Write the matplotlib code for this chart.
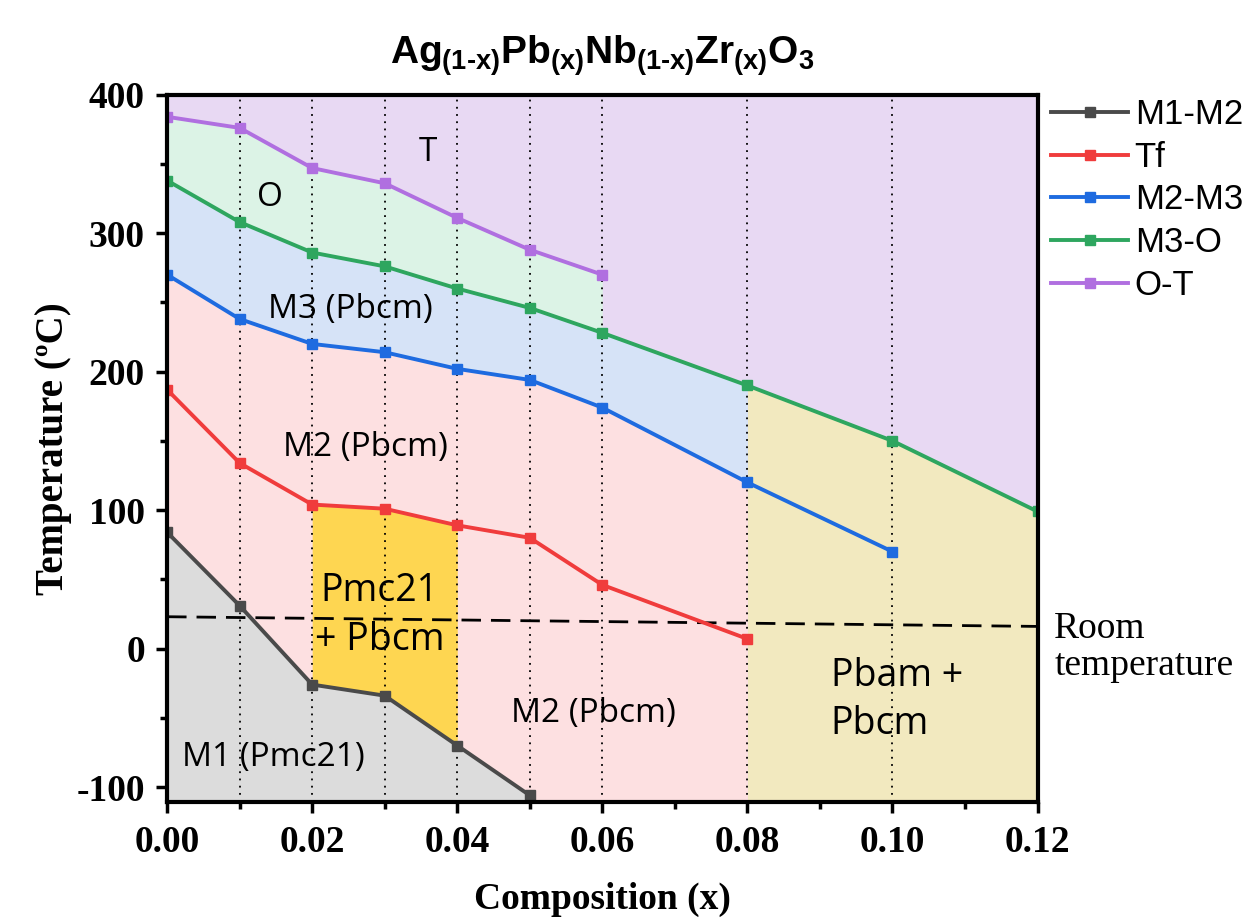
import numpy as np
import matplotlib.pyplot as plt

plt.rcParams['axes.unicode_minus'] = False
plt.rcParams['mathtext.fontset'] = 'custom'
plt.rcParams['mathtext.rm'] = 'Liberation Sans:bold'
plt.rcParams['mathtext.bf'] = 'Liberation Sans:bold'
plt.rcParams['mathtext.it'] = 'Liberation Sans:bold'

# composition values
x_all = [0.00, 0.01, 0.02, 0.03, 0.04, 0.05, 0.06, 0.08, 0.10, 0.12]

m1m2 = [84, 31, -26, -34, -70, -106]
tf = [187, 134, 104, 101, 89, 80, 46, 7]
m2m3 = [270, 238, 220, 214, 202, 194, 174, 120, 70]
m3o = [338, 308, 286, 276, 260, 246, 228, 190, 150, 99]
ot = [384, 376, 347, 336, 311, 288, 270]

room_x = [0.00, 0.12]
room_t = [23, 16]

grid_x = [0.01, 0.02, 0.03, 0.04, 0.05, 0.06, 0.08, 0.10]

ymin, ymax = -111, 400

fig = plt.figure(figsize=(12.47, 9.19), dpi=100)
ax = fig.add_axes([0.134, 0.127, 0.698, 0.77])
ax.set_facecolor('#e8d9f3')

x1 = x_all[:len(m1m2)]
x2 = x_all[:len(tf)]
x3 = x_all[:len(m2m3)]
x5 = x_all[:len(ot)]

# phase regions
ax.fill_between(x_all[7:], ymin, m3o[7:], color='#f2e9bf', lw=0, zorder=1)
ax.fill_between(x5, np.array(m3o[:len(ot)]), ot, color='#dcf3e6', lw=0, zorder=1)
ax.fill_between(x_all[:8], np.array(m2m3[:8]), m3o[:8], color='#d6e3f7', lw=0, zorder=1)
ax.fill_between(x_all[:8], ymin, m2m3[:8], color='#fde0e1', lw=0, zorder=1)
ax.fill_between(x1, ymin, m1m2, color='#dcdcdc', lw=0, zorder=1)
ax.fill_between(x_all[2:5], m1m2[2:5], tf[2:5], color='#fed651', lw=0, zorder=1)

for gx in grid_x:
    ax.axvline(gx, color='black', ls=(0, (1, 3)), lw=1.3, zorder=2)

ax.plot(room_x, room_t, color='black', ls=(0, (7, 3.6)), lw=2, zorder=3)

kw = dict(marker='s', ms=7, lw=2.8, zorder=4)
ax.plot(x1, m1m2, color='#4a4a4a', label='M1-M2', **kw)
ax.plot(x2, tf, color='#f03c3c', label='Tf', **kw)
ax.plot(x3, m2m3, color='#1e6be0', label='M2-M3', **kw)
ax.plot(x_all, m3o, color='#2ea65f', label='M3-O', **kw)
ax.plot(x5, ot, color='#b06fe0', label='O-T', **kw)

lab = dict(fontsize=24, family='Open Sans', color='black', zorder=5)
ax.text(0.036, 358, 'T', ha='center', va='center', **lab)
ax.text(0.0142, 326, 'O', ha='center', va='center', **lab)
ax.text(0.0253, 245, 'M3 (Pbcm)', ha='center', va='center', **lab)
ax.text(0.0274, 145, 'M2 (Pbcm)', ha='center', va='center', **lab)
ax.text(0.0293, 24, 'Pmc21\n+ Pbcm', ha='center', va='center', linespacing=1.4,
        fontsize=27, family='Open Sans', zorder=5)
ax.text(0.0588, -47, 'M2 (Pbcm)', ha='center', va='center', **lab)
ax.text(0.0146, -79, 'M1 (Pmc21)', ha='center', va='center', **lab)
ax.text(0.0915, -37, 'Pbam +\nPbcm', ha='left', va='center', linespacing=1.36,
        fontsize=27, family='Open Sans', zorder=5)
ax.text(0.1223, 1, 'Room\ntemperature', ha='left', va='center', fontsize=27,
        linespacing=1.1, family='Liberation Serif', clip_on=False)

ax.set_xlim(0, 0.12)
ax.set_ylim(ymin, ymax)
ax.set_xticks(np.arange(0, 0.121, 0.02))
ax.set_xticks(np.arange(0.01, 0.12, 0.02), minor=True)
ax.set_yticks([-100, 0, 100, 200, 300, 400])
ax.set_yticks([-50, 50, 150, 250, 350], minor=True)
ax.set_xticklabels(['%.2f' % v for v in np.arange(0, 0.121, 0.02)])
ax.tick_params(which='major', direction='out', length=8, width=2.5, labelsize=27, pad=8)
ax.tick_params(which='minor', direction='out', length=5, width=2.5)
for t in ax.get_xticklabels() + ax.get_yticklabels():
    t.set_family('Liberation Serif')
    t.set_weight('bold')
for s in ax.spines.values():
    s.set_linewidth(3)
    s.set_zorder(6)

ax.set_xlabel('Composition (x)', family='Liberation Serif', weight='bold', fontsize=27, labelpad=16)
ax.set_ylabel('Temperature (ºC)', family='Liberation Serif', weight='bold', fontsize=28, labelpad=3)
ax.set_title(r'$Ag_{(1\text{-}x)}Pb_{(x)}Nb_{(1\text{-}x)}Zr_{(x)}O_3$', fontsize=28, pad=22)

leg = ax.legend(loc='upper left', bbox_to_anchor=(1.0, 1.015), frameon=False,
                handlelength=2.2, handletextpad=0.2, labelspacing=0.28,
                borderaxespad=0.3, borderpad=0.1,
                prop={'family': 'Liberation Sans', 'size': 25})

fig.savefig('out.png', dpi=100)
